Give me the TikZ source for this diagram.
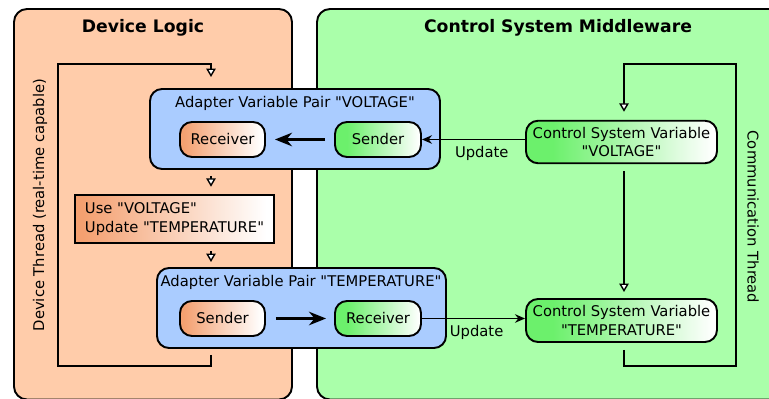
\documentclass[tikz,border=0pt]{standalone}
\usepackage{fontspec}
\setmainfont{DejaVu Sans}[Ligatures=TeXOff]
\usetikzlibrary{calc,arrows.meta}

\definecolor{devbg}{HTML}{FFCCAA}
\definecolor{midbg}{HTML}{AAFFAA}
\definecolor{pairbg}{HTML}{AACCFF}
\definecolor{devfill}{HTML}{F4A070}
\definecolor{midfill}{HTML}{6CF06C}

\pgfdeclarehorizontalshading{devfade}{100bp}{color(0bp)=(devfill); color(27bp)=(devfill); color(73bp)=(white); color(100bp)=(white)}
\pgfdeclarehorizontalshading{midfade}{100bp}{color(0bp)=(midfill); color(32bp)=(midfill); color(74bp)=(white); color(100bp)=(white)}

\begin{document}
\begin{tikzpicture}[
    every node/.style={font=\fontsize{8.4}{10.8}\selectfont},
    panel/.style={draw=black, line width=1.1pt, rounded corners=0.26cm},
    paneltitle/.style={font=\fontsize{9.8}{12}\selectfont\bfseries},
    pair/.style={draw=black, line width=1.1pt, fill=pairbg, rounded corners=0.24cm, minimum width=5.8cm, minimum height=1.6cm},
    devbox/.style={draw=black, line width=1.1pt, shading=devfade, rounded corners=0.24cm, minimum width=1.7cm, minimum height=0.7cm},
    midbox/.style={draw=black, line width=1.1pt, shading=midfade, rounded corners=0.24cm, minimum width=1.72cm, minimum height=0.7cm},
    csvar/.style={draw=black, line width=1.1pt, shading=midfade, rounded corners=0.24cm, minimum width=3.82cm, minimum height=0.85cm, align=center},
    flow/.style={line width=1.1pt, -{Triangle[fill=white, length=0.17cm, width=0.19cm, line width=0.8pt]}},
    update/.style={line width=1.1pt, -{Stealth[length=0.2cm, width=0.17cm]}},
    transfer/.style={line width=1.7pt, -{Stealth[length=0.34cm, width=0.27cm]}}
]
    \useasboundingbox (0,0) rectangle (15.38,-7.98);

    % the two halves
    \draw[panel, fill=devbg] (0.28,-0.18) rectangle (5.84,-7.99);
    \draw[panel, fill=midbg] (6.34,-0.18) rectangle (16,-7.99);
    \node[paneltitle] (devtitle) at (2.86,-0.56) {Device Logic};
    \node[paneltitle] (midtitle) at (11.16,-0.56) {Control System Middleware};

    % adapter pair VOLTAGE
    \node[pair] (adpV) at (5.9,-2.58) {};
    \node (adpVtitle) at (5.9,-2.06) {Adapter Variable Pair "VOLTAGE"};
    \node[devbox] (recvV) at (4.45,-2.79) {Receiver};
    \node[midbox] (sendV) at (7.56,-2.79) {Sender};

    % step in between
    \node[draw=black, line width=1.4pt, shading=devfade, minimum width=3.98cm, minimum height=0.96cm, align=left] (step) at (3.49,-4.38) {Use "VOLTAGE"\\Update "TEMPERATURE"};

    % adapter pair TEMPERATURE
    \node[pair, minimum width=5.78cm] (adpT) at (6.03,-6.16) {};
    \node (adpTtitle) at (6.02,-5.64) {Adapter Variable Pair "TEMPERATURE"};
    \node[devbox] (sendT) at (4.45,-6.37) {Sender};
    \node[midbox] (recvT) at (7.56,-6.37) {Receiver};

    % control system side
    \node[csvar] (csvV) at (12.43,-2.84) {Control System Variable\\"VOLTAGE"};
    \node[csvar, minimum height=0.86cm] (csvT) at (12.43,-6.41) {Control System Variable\\"TEMPERATURE"};

    % thread labels
    \node[rotate=90] (devthread) at (0.8,-4.1) {Device Thread (real-time capable)};
    \node[rotate=-90] (commthread) at (15.06,-4.34) {Communication Thread};

    \coordinate (devcorner) at (1.16,-7.32);
    \coordinate (devtop) at (4.22,-1.28);
    \coordinate (commcorner) at (14.72,-7.32);
    \coordinate (commtop) at (12.48,-1.28);

    % device thread loop
    \draw[flow, shorten <=0.12cm, shorten >=0.22cm] (adpT.south -| devtop) |- (devcorner) |- (devtop) -- (adpV.north -| devtop);
    \draw[flow, shorten <=0.12cm, shorten >=0.14cm] (adpV.south -| devtop) -- (step.north -| devtop);
    \draw[flow, shorten <=0.14cm, shorten >=0.1cm] (step.south -| devtop) -- (adpT.north -| devtop);

    % communication thread loop
    \draw[flow, shorten <=0.14cm, shorten >=0.16cm] (csvT.south -| commtop) |- (commcorner) |- (commtop) -- (csvV.north -| commtop);
    \draw[flow, shorten <=0.14cm, shorten >=0.12cm] (csvV.south -| commtop) -- (csvT.north -| commtop);

    % updates
    \draw[update] (csvV.west |- sendV) -- node[below, pos=0.42] (updV) {Update} (sendV.east);
    \draw[update] (recvT.east) -- node[below, pos=0.53] (updT) {Update} (csvT.west |- recvT);

    % inside the pairs
    \draw[transfer, shorten <=0.18cm, shorten >=0.18cm] (sendV.west) -- (recvV.east);
    \draw[transfer, shorten <=0.2cm, shorten >=0.16cm] (sendT.east) -- (recvT.west);
\end{tikzpicture}
\end{document}
